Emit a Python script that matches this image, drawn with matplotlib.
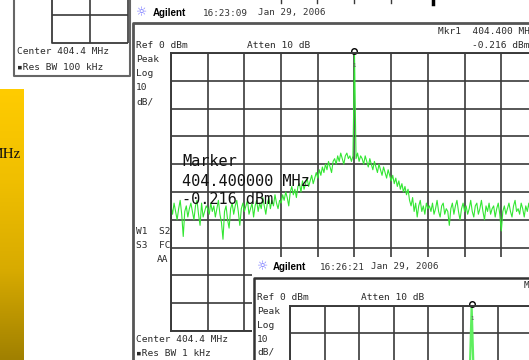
import numpy as np
import matplotlib.pyplot as plt
from matplotlib.colors import LinearSegmentedColormap
from matplotlib.patches import Rectangle

center_mhz = 404.4
span_mhz = 0.1          # main sweep, Res BW 1 kHz
ref_level = 0
db_per_div = 10

# main trace in dBm, 24 sweep points per division
main_left = [
    -55, -58, -54, -57, -60, -56, -53, -58, -66, -57, -55, -59, -56, -54, -57, -60, -55, -53, -58, -62, -54, -59, -57, -55,
    -56, -58, -54, -57, -55, -59, -56, -53, -58, -61, -67, -57, -55, -60, -63, -56, -54, -58, -55, -53, -57, -62, -56, -54,
    -57, -55, -53, -58, -56, -54, -59, -55, -53, -57, -54, -56, -52, -55, -58, -54, -52, -56, -53, -55, -51, -54, -56, -53,
    -54, -51, -53, -50, -52, -55, -50, -48, -51, -49, -52, -48, -47, -50, -46, -49, -47, -45, -48, -46, -44, -47, -45, -43,
    -45, -42, -44, -41, -43, -40, -42, -39, -41, -43, -39, -38, -40, -37, -39, -36, -38, -40, -37, -36, -38, -37, -39, -37,
]
main_peak = -0.216
main_right = [
    -38, -36, -39, -37, -38, -40, -37, -39, -41, -38, -40, -42, -39, -41, -43, -40, -42, -44, -41, -43, -45, -42, -44, -46,
    -44, -47, -45, -48, -46, -49, -47, -50, -48, -51, -49, -53, -55, -52, -57, -54, -59, -55, -53, -57, -55, -58, -54, -56,
    -55, -57, -54, -58, -56, -53, -57, -59, -55, -54, -58, -56, -57, -62, -56, -54, -58, -55, -53, -57, -60, -56, -54, -57,
    -55, -58, -56, -53, -57, -59, -55, -54, -58, -56, -53, -57, -60, -55, -57, -54, -58, -56, -55, -59, -56, -54, -58, -64,
    -57, -55, -58, -56, -54, -57, -59, -55, -53, -57, -56, -58, -54, -56, -59, -55, -57, -54, -58, -56, -55, -57, -54, -56,
]
marker_freq = 404.4
marker_level = -0.216

# second (inset) screen, narrower span
inset_start = 404.3895
inset_stop = 404.4095
inset_offset_khz = [-10.5, -8, -6, -4, -2, -1, -0.2, 0, 0.2, 1, 2, 4, 6, 8, 9.5]
inset_level = [-60, -62, -59, -58, -55, -50, -45, -0.3, -44, -51, -56, -58, -61, -60, -62]

MONO = ['DejaVu Sans Mono', 'DejaVu Sans']
GRID = '#3a3a3a'
TRACE = '#33e633'
TXT = '#2a2a2a'
W, H = 529, 360

fig = plt.figure(figsize=(5.29, 3.6), dpi=100)
fig.patch.set_facecolor('white')


def px_axes(z):
    a = fig.add_axes([0, 0, 1, 1], zorder=z)
    a.set_xlim(0, W)
    a.set_ylim(H, 0)
    a.axis('off')
    a.patch.set_alpha(0)
    return a


def scr(a, x, y, s, size=6.8, **kw):
    kw.setdefault('color', TXT)
    kw.setdefault('family', MONO)
    a.text(x, y, s, fontsize=size, va='center', ha=kw.pop('ha', 'left'), **kw)


def spectrum_axes(left, top, width, height, z):
    a = fig.add_axes([left / W, (H - top - height) / H, width / W, height / H], zorder=z)
    a.set_facecolor('white')
    a.set_axisbelow(True)
    a.grid(True, color=GRID, lw=1.2)
    a.tick_params(length=0, labelbottom=False, labelleft=False)
    for sp in a.spines.values():
        sp.set_color(GRID)
        sp.set_linewidth(1.4)
    return a


bg = px_axes(0)

# yellow slide strip on the left
cmap = LinearSegmentedColormap.from_list('gold', ['#ffcc00', '#f0bf00', '#d8ab00', '#a08000'])
grad = np.linspace(0, 1, 256).reshape(-1, 1)
bg.imshow(grad, extent=(0, 24, 360, 89), aspect='auto', cmap=cmap, zorder=0)
bg.text(21, 154, 'MHz', fontsize=11, family='Liberation Serif', ha='right', va='center',
        color='#111111', clip_on=True)
bg.set_xlim(0, W)
bg.set_ylim(H, 0)

# partial screen at top-left
for xs, ys, c, lw in [([14, 14, 130, 130], [0, 76, 76, 0], '#666666', 1.5),
                      ([52, 52, 128], [0, 43, 43], GRID, 1.3),
                      ([90, 90], [0, 43], GRID, 1.2),
                      ([128, 128], [0, 43], GRID, 1.2),
                      ([52, 128], [15, 15], GRID, 1.2)]:
    bg.plot(xs, ys, color=c, lw=lw, solid_capstyle='butt')
scr(bg, 17, 52, 'Center 404.4 MHz')
scr(bg, 17, 67, '▪Res BW 100 kHz')

# bits of another screen peeking at the very top
for x in [281, 317, 354, 391]:
    bg.plot([x, x], [0, 3], color=GRID, lw=1)
bg.plot([433, 433], [0, 4], color='black', lw=2.5)

# main screen frame and labels
bg.plot([133, 133, 529], [360, 23, 23], color='#555555', lw=2)
bg.text(142, 13, '☼', fontsize=9, color='#6f6fff', ha='center', va='center', family='DejaVu Sans')
bg.text(153, 13, 'Agilent', fontsize=7, weight='bold', family='Liberation Sans', va='center', color='black')
scr(bg, 203, 13, '16:23:09', size=6.7, color='#333333')
scr(bg, 258, 13, 'Jan 29, 2006', size=6.7, color='#333333')
scr(bg, 136, 46, 'Ref 0 dBm')
scr(bg, 247, 46, 'Atten 10 dB')
scr(bg, 438, 31, 'Mkr1  404.400 MHz')
scr(bg, 472, 45, '-0.216 dBm')
for y, s in [(60, 'Peak'), (74, 'Log'), (88, '10'), (102, 'dB/')]:
    scr(bg, 136, y, s)
scr(bg, 136, 231, 'W1  S2')
scr(bg, 136, 245, 'S3  FC')
scr(bg, 168, 259, 'AA', ha='right')
scr(bg, 136, 339, 'Center 404.4 MHz')
scr(bg, 136, 354, '▪Res BW 1 kHz')

# main spectrum
main = spectrum_axes(171, 53, 367, 278, 1)
f0 = center_mhz - span_mhz / 2
f1 = center_mhz + span_mhz / 2
freq = np.concatenate([np.linspace(f0, center_mhz, len(main_left) + 1)[:-1],
                       [center_mhz],
                       np.linspace(center_mhz, f1, len(main_right) + 1)[1:]])
level = main_left + [main_peak] + main_right
main.plot(freq, level, color=TRACE, lw=0.8)
main.plot([marker_freq], [marker_level + 0.9], marker='o', ms=4, mfc='white', mec='black',
          mew=1, clip_on=False)
main.text(marker_freq, -4.5, '1', fontsize=4, ha='center', va='center', color='#555555')
main.set_xlim(f0, f1)
main.set_ylim(ref_level - 10 * db_per_div, ref_level)
main.set_xticks(np.linspace(f0, f1, 11))
main.set_yticks(np.arange(ref_level - 10 * db_per_div, ref_level + 1, db_per_div))

# overlay: big marker readout and the second screen
ov = px_axes(2)
scr(ov, 182, 162, 'Marker', size=11, color='#111111')
scr(ov, 182, 181, '404.400000 MHz', size=11, color='#111111')
scr(ov, 182, 200, '-0.216 dBm', size=11, color='#111111')

ov.add_patch(Rectangle((252, 257), 280, 110, facecolor='white', edgecolor='none', zorder=1))
ov.plot([254, 254, 529], [360, 278, 278], color='#333333', lw=1.8, zorder=2)
ov.text(263, 267, '☼', fontsize=9, color='#6f6fff', ha='center', va='center', family='DejaVu Sans', zorder=3)
ov.text(273, 267, 'Agilent', fontsize=7, weight='bold', family='Liberation Sans', va='center',
        color='black', zorder=3)
scr(ov, 320, 267, '16:26:21', size=6.7, color='#333333', zorder=3)
scr(ov, 371, 267, 'Jan 29, 2006', size=6.7, color='#333333', zorder=3)
scr(ov, 257, 298, 'Ref 0 dBm', zorder=3)
scr(ov, 361, 298, 'Atten 10 dB', zorder=3)
scr(ov, 524, 285, 'Mkr1', zorder=3)
for y, s in [(312, 'Peak'), (326, 'Log'), (339, '10'), (352, 'dB/')]:
    scr(ov, 257, y, s, zorder=3)

# inset spectrum
ins = spectrum_axes(290, 306, 346, 274, 3)
ins_freq = [center_mhz + k / 1000 for k in inset_offset_khz]
ins.plot(ins_freq, inset_level, color='#5fee5f', lw=1.6)
ins.plot([center_mhz], [0.7], marker='o', ms=4, mfc='white', mec='black', mew=1, clip_on=False)
ins.text(center_mhz, -4.5, '1', fontsize=4, ha='center', va='center', color='#555555')
ins.set_xlim(inset_start, inset_stop)
ins.set_ylim(ref_level - 10 * db_per_div, ref_level)
ins.set_xticks(np.linspace(inset_start, inset_stop, 11))
ins.set_yticks(np.arange(ref_level - 10 * db_per_div, ref_level + 1, db_per_div))

fig.savefig('out.png', dpi=100)
